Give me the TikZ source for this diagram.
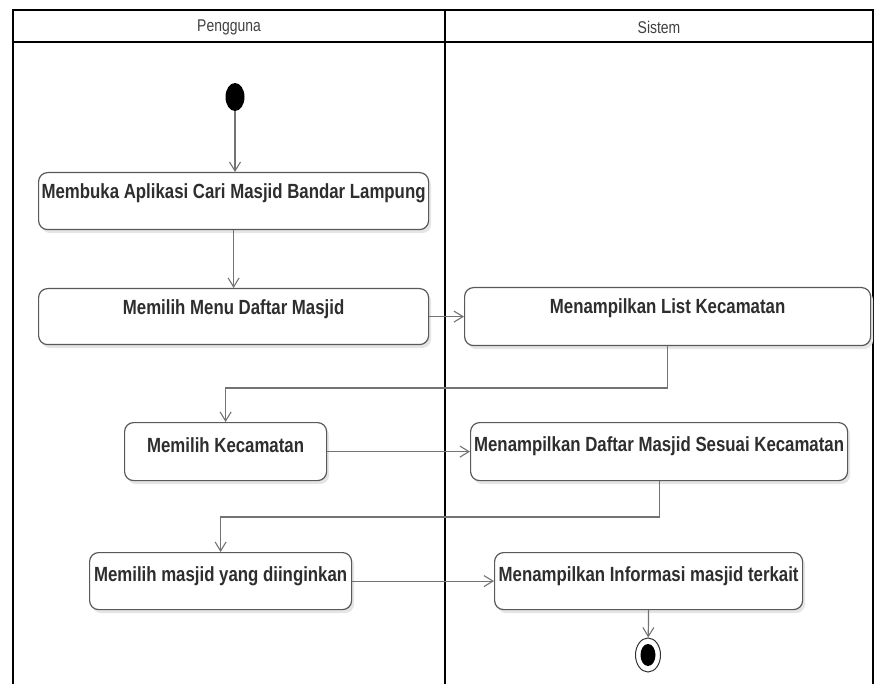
\documentclass[tikz,border=0pt]{standalone}
\usepackage{fontspec}
\setmainfont{Liberation Sans}[FakeStretch=0.82]
\usetikzlibrary{arrows.meta,shadows,shapes.geometric,calc}
\begin{document}
\begin{tikzpicture}[x=1pt,y=-1pt,
  act/.style={draw=black!65, line width=1.2pt, rounded corners=9pt, fill=white,
    drop shadow={shadow xshift=2.5pt,shadow yshift=-3.5pt,fill=black!10,opacity=1},
    inner xsep=0pt, inner ysep=0pt, anchor=north west, text=black!82,
    font=\fontsize{20.5}{24}\selectfont\bfseries},
  flow/.style={draw=black!55, line width=1.2pt,
    -{Straight Barb[length=9pt,width=11pt,line width=1.1pt]}},
  lanehead/.style={text=black!75, font=\fontsize{17}{20}\selectfont},
  frameline/.style={draw=black, line width=2.5pt},
  divider/.style={draw=black, line width=1.6pt},
  initial/.style={ellipse, fill=black, inner sep=0pt, minimum width=19pt, minimum height=28pt},
  finalring/.style={ellipse, draw=black!80, line width=1pt, fill=white, inner sep=0pt,
    minimum width=25pt, minimum height=34pt},
  finaldot/.style={ellipse, fill=black, inner sep=0pt, minimum width=15pt, minimum height=22pt},
  ]
\useasboundingbox (0,0) rectangle (875,684);

% swimlane frame
\draw[frameline] (13,684) -- (13,10) -- (873,10) -- (873,684);
\draw[frameline] (13,42) -- (873,42);
\draw[divider] (445,10) -- (445,684);
\node[lanehead] (h1) at (229,27) {Pengguna};
\node[lanehead] (h2) at (659,27) {Sistem};

% start and end
\node[initial] (start) at (235,97) {};
\node[finalring] (end) at (648,655) {};
\node[finaldot] (enddot) at (end.center) {};

% activities
\node[act, minimum width=390pt, text height=26pt, text depth=31pt] (b1) at (38,172)
  {Membuka Aplikasi Cari Masjid Bandar Lampung};
\node[act, minimum width=390pt, text height=26pt, text depth=30pt] (b2) at (38,288)
  {Memilih Menu Daftar Masjid};
\node[act, minimum width=406pt, text height=26pt, text depth=32pt] (b3) at (464,287)
  {Menampilkan List Kecamatan};
\node[act, minimum width=202pt, text height=30pt, text depth=28pt] (b4) at (124,422)
  {Memilih Kecamatan};
\node[act, minimum width=377pt, text height=29pt, text depth=29pt] (b5) at (470,422)
  {Menampilkan Daftar Masjid Sesuai Kecamatan};
\node[act, minimum width=262pt, text height=29pt, text depth=28pt] (b6) at (89,552)
  {Memilih masjid yang diinginkan};
\node[act, minimum width=308pt, text height=29pt, text depth=28pt] (b7) at (494,552)
  {Menampilkan Informasi masjid terkait};

% control flow
\coordinate (j1) at ($(b4.north)+(0,-34)$);
\coordinate (j2) at ($(b6.north)+(0,-35)$);
\draw[flow] (start.south) -- (start.south |- b1.north);
\draw[flow] (b1) -- (b2);
\draw[flow] (b2.east) -- (b2.east -| b3.west);
\draw[flow] (b3.south) |- (j1) -- (b4.north);
\draw[flow] (b4.east) -- (b4.east -| b5.west);
\draw[flow] (b5.south) |- (j2) -- (b6.north);
\draw[flow] (b6.east) -- (b6.east -| b7.west);
\draw[flow] (b7.south) -- (end);
\end{tikzpicture}
\end{document}
